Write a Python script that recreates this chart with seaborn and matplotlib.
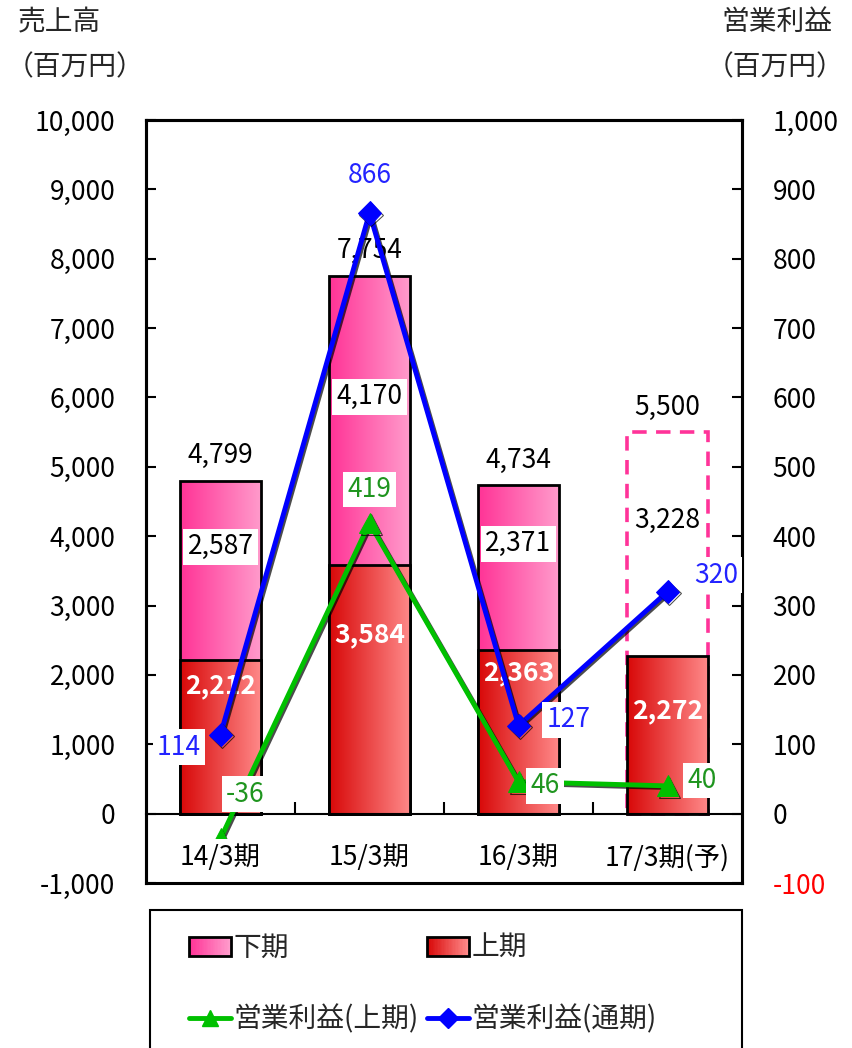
import numpy as np
import pandas as pd
import matplotlib
matplotlib.use("Agg")
import matplotlib.pyplot as plt
import seaborn as sns
from matplotlib.colors import LinearSegmentedColormap
from matplotlib.patches import Rectangle
from matplotlib.lines import Line2D
from matplotlib.legend_handler import HandlerBase
import matplotlib.patheffects as pe

# ---- data -------------------------------------------------------------
periods = ["14/3期", "15/3期", "16/3期", "17/3期(予)"]
sales_h1 = [2212, 3584, 2363, 2272]          # 上期 売上高
sales_h2 = [2587, 4170, 2371, 3228]          # 下期 売上高
sales_total = [4799, 7754, 4734, 5500]       # 通期 売上高
op_h1 = [-36, 419, 46, 40]                   # 営業利益(上期)
op_full = [114, 866, 127, 320]               # 営業利益(通期)
left_ticks = list(range(-1000, 10001, 1000))
right_ticks = list(range(-100, 1001, 100))

# ---- style ------------------------------------------------------------
H1_COLORS = ("#d80808", "#ff8a8a")
H2_COLORS = ("#ff3396", "#ff9ccc")
BLUE = "#0000ff"
GREEN = "#00c000"
FS = 19

sns.set_theme(style="white")
plt.rcParams["font.family"] = ["Noto Sans CJK JP", "DejaVu Sans"]

fig = plt.figure(figsize=(8.52, 10.48), dpi=100)
ax = fig.add_axes([146 / 852, 1 - 883 / 1048, 596 / 852, 763 / 1048])

df = pd.DataFrame({"period": periods, "h1": sales_h1, "total": sales_total})
sns.barplot(data=df, x="period", y="total", ax=ax, width=0.55, color="white",
            saturation=1, edgecolor="black", linewidth=2)
sns.barplot(data=df, x="period", y="h1", ax=ax, width=0.55, color="white",
            saturation=1, edgecolor="black", linewidth=2)

total_patches = ax.patches[:4]
h1_patches = ax.patches[4:8]


def gradient_fill(patch, colors, z):
    cmap = LinearSegmentedColormap.from_list("grad", list(colors))
    x0, y0 = patch.get_x(), patch.get_y()
    w, h = patch.get_width(), patch.get_height()
    grad = np.linspace(0, 1, 256).reshape(1, -1)
    im = ax.imshow(grad, cmap=cmap, aspect="auto", extent=(x0, x0 + w, y0, y0 + h),
                   origin="lower", zorder=z, interpolation="bicubic")
    im.set_clip_path(patch)
    patch.set_facecolor("none")
    patch.set_zorder(z + 0.1)


for i, p in enumerate(total_patches):
    if i == 3:
        # forecast second half: dashed outline only
        p.set_facecolor("white")
        p.set_edgecolor("#ff3399")
        p.set_linestyle((0, (4, 2.6)))
        p.set_linewidth(2.6)
        p.set_zorder(2.1)
    else:
        gradient_fill(p, H2_COLORS, 2.0)
for p in h1_patches:
    gradient_fill(p, H1_COLORS, 2.2)

# ---- bar labels ---------------------------------------------------------
h1_label_frac = [0.83, 0.72, 0.86, 0.65]
for i in range(4):
    ax.annotate(f"{sales_total[i]:,}", (i, sales_total[i]), xytext=(0, 18),
                textcoords="offset points", ha="center", va="center",
                fontsize=FS, color="black", zorder=4)
    mid = sales_h1[i] + sales_h2[i] / 2
    box = dict(fc="white", ec="none", pad=3) if i < 3 else None
    ax.annotate(f"{sales_h2[i]:,}", (i, mid), xytext=(0, 17),
                textcoords="offset points", ha="center", va="center",
                fontsize=FS, color="black", bbox=box, zorder=4)
    ax.annotate(f"{sales_h1[i]:,}", (i, sales_h1[i] * h1_label_frac[i]),
                ha="center", va="center", fontsize=FS, color="white",
                fontweight="bold", zorder=4)

# ---- left axis (frame) ------------------------------------------------------
ax.set_xlim(-0.5, 3.5)
ax.set_ylim(-1000, 10000)
ax.set_yticks(left_ticks)
ax.set_yticklabels([f"{v:,}" for v in left_ticks])
ax.set_xlabel("")
ax.set_ylabel("")
for s in ax.spines.values():
    s.set_linewidth(2.2)
    s.set_color("black")
ax.tick_params(axis="y", left=True, direction="in", length=7, width=1.5,
               pad=22, labelsize=FS, colors="black")
ax.tick_params(axis="x", bottom=False, labelbottom=False)

# ---- right axis, category axis at zero, operating profit lines -------------
ax2 = ax.twinx()
ax2.set_ylim(-100, 1000)
ax2.set_yticks(right_ticks)
ax2.set_yticklabels([f"{v:,}" for v in right_ticks])
ax2.tick_params(axis="y", right=True, direction="in", length=7, width=1.5,
                pad=22, labelsize=FS, labelcolor="black", color="black")
for lab, v in zip(ax2.get_yticklabels(), right_ticks):
    if v < 0:
        lab.set_color("#ff0000")
for s in ("left", "top", "right"):
    ax2.spines[s].set_linewidth(2.2)
    ax2.spines[s].set_color("black")
ax2.set_ylabel("")

ax2.xaxis.set_visible(True)
ax2.spines["bottom"].set_position(("data", 0))
ax2.spines["bottom"].set_linewidth(1.5)
ax2.spines["bottom"].set_color("black")
ax2.set_xticks(range(4))
ax2.set_xticklabels(periods)
ax2.set_xticks([0.5, 1.5, 2.5], minor=True)
ax2.tick_params(axis="x", which="major", bottom=False, length=0, pad=22,
                labelsize=FS, labelcolor="black")
ax2.tick_params(axis="x", which="minor", bottom=True, direction="in",
                length=9, width=1.5, color="black")
for lab in ax2.get_xticklabels():
    lab.set_bbox(dict(fc="white", ec="none", pad=4))
ax2.xaxis.set_zorder(8)
ax2.set_xlim(-0.5, 3.5)

xpos = np.arange(len(periods))
shadow = [pe.SimpleLineShadow(offset=(1.2, -1.2), shadow_color="black", alpha=0.7),
          pe.Normal()]
sns.lineplot(x=xpos, y=op_h1, ax=ax2, color=GREEN, linewidth=3.5, marker="^",
             markersize=15, markeredgecolor=GREEN, zorder=5, path_effects=shadow)
sns.lineplot(x=xpos, y=op_full, ax=ax2, color=BLUE, linewidth=3.5, marker="D",
             markersize=12, markeredgecolor=BLUE, zorder=6, path_effects=shadow)
ax2.set_xlabel("")

full_offsets = [(-30, -9), (0, 27), (36, 4), (35, 12)]
h1_offsets = [(18, 32), (0, 24), (19, -3), (25, 4)]
for i in range(4):
    ax2.annotate(f"{op_full[i]}", (i, op_full[i]), xytext=full_offsets[i],
                 textcoords="offset points", ha="center", va="center",
                 fontsize=FS, color="#2323ff",
                 bbox=dict(fc="white", ec="none", pad=3), zorder=7)
    ax2.annotate(f"{op_h1[i]}", (i, op_h1[i]), xytext=h1_offsets[i],
                 textcoords="offset points", ha="center", va="center",
                 fontsize=FS, color="#1f951f",
                 bbox=dict(fc="white", ec="none", pad=3), zorder=7)

# ---- axis unit captions ---------------------------------------------------
fig.text(18 / 852, 1 - 22 / 1048, "売上高", ha="left", va="center", fontsize=20)
fig.text(6 / 852, 1 - 67 / 1048, "（百万円）", ha="left", va="center", fontsize=20)
fig.text(832 / 852, 1 - 22 / 1048, "営業利益", ha="right", va="center", fontsize=20)
fig.text(844 / 852, 1 - 67 / 1048, "（百万円）", ha="right", va="center", fontsize=20)


# ---- legend -------------------------------------------------------------
class GradientHandler(HandlerBase):
    def __init__(self, colors, n=30):
        super().__init__()
        self.cmap = LinearSegmentedColormap.from_list("lg", list(colors))
        self.n = n

    def create_artists(self, legend, orig_handle, xdescent, ydescent,
                       width, height, fontsize, trans):
        arts = []
        for k in range(self.n):
            arts.append(Rectangle((-xdescent + width * k / self.n, -ydescent),
                                  width / self.n * 1.05, height,
                                  fc=self.cmap(k / (self.n - 1)), ec="none",
                                  transform=trans))
        arts.append(Rectangle((-xdescent, -ydescent), width, height, fc="none",
                              ec="black", lw=2, transform=trans))
        return arts


h2_handle = Rectangle((0, 0), 1, 1)
h1_handle = Rectangle((0, 0), 1, 1)
g_handle = Line2D([], [], color=GREEN, lw=3.5, marker="^", markersize=12,
                  markeredgecolor=GREEN)
b_handle = Line2D([], [], color=BLUE, lw=3.5, marker="D", markersize=10,
                  markeredgecolor=BLUE)

fig.add_artist(Rectangle((150 / 852, -0.02), 592 / 852, (1048 - 910) / 1048 + 0.02,
                         transform=fig.transFigure, fill=False, ec="black", lw=1.5))
fig.legend([h2_handle, g_handle, h1_handle, b_handle],
           ["下期", "営業利益(上期)", "上期", "営業利益(通期)"],
           handler_map={h2_handle: GradientHandler(H2_COLORS),
                        h1_handle: GradientHandler(H1_COLORS)},
           loc="upper left", bbox_to_anchor=(164 / 852, 1 - 908 / 1048),
           ncol=2, frameon=False, fontsize=20, handlelength=1.5,
           handleheight=0.65, handletextpad=0.1, labelspacing=1.5,
           columnspacing=0.3)

fig.savefig("out.png", dpi=100)
